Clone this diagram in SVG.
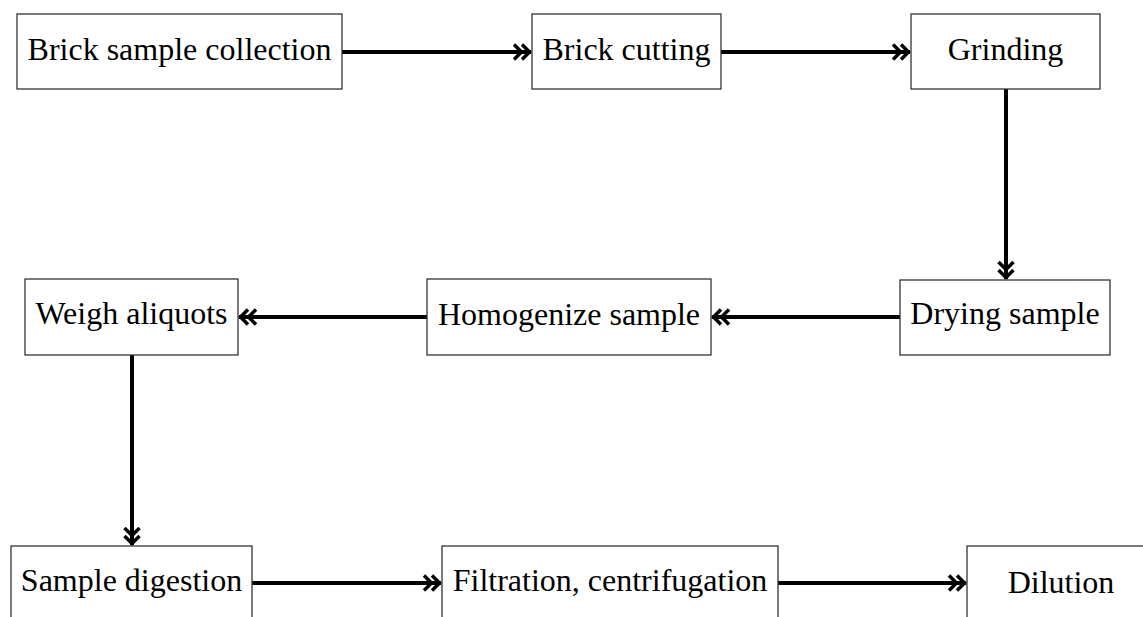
<svg xmlns="http://www.w3.org/2000/svg" width="1143" height="617" viewBox="0 0 1143 617">
  <style>
    .box { fill: #ffffff; stroke: #333333; stroke-width: 1.3; }
    .lbl { font-family: "Liberation Serif", "Times New Roman", serif; font-size: 32px; fill: #000000; text-anchor: middle; }
    .conn { stroke: #000000; stroke-width: 4; fill: none; }
  </style>
  <defs>
    <marker id="dbl" markerUnits="userSpaceOnUse" viewBox="-22 -11 24 22" markerWidth="24" markerHeight="22" refX="0" refY="0" orient="auto" overflow="visible">
      <path d="M-9,-7.5 L-1.5,0 L-9,7.5 M-17,-7.5 L-9.5,0 L-17,7.5" fill="none" stroke="#000000" stroke-width="3.5" stroke-linejoin="miter"/>
    </marker>
  </defs>

  <g id="connectors">
    <line class="conn" x1="342" y1="52" x2="531" y2="52" marker-end="url(#dbl)"/>
    <line class="conn" x1="721" y1="52" x2="910" y2="52" marker-end="url(#dbl)"/>
    <line class="conn" x1="1006" y1="89" x2="1006" y2="279" marker-end="url(#dbl)"/>
    <line class="conn" x1="900" y1="317" x2="712" y2="317" marker-end="url(#dbl)"/>
    <line class="conn" x1="427" y1="317" x2="239" y2="317" marker-end="url(#dbl)"/>
    <line class="conn" x1="132" y1="355" x2="132" y2="545" marker-end="url(#dbl)"/>
    <line class="conn" x1="252" y1="583" x2="441" y2="583" marker-end="url(#dbl)"/>
    <line class="conn" x1="778" y1="583" x2="966" y2="583" marker-end="url(#dbl)"/>
  </g>

  <g id="node-brick-sample-collection">
    <rect class="box" x="17" y="14" width="325" height="75"/>
    <text class="lbl" x="179.5" y="60">Brick sample collection</text>
  </g>
  <g id="node-brick-cutting">
    <rect class="box" x="532" y="14" width="189" height="75"/>
    <text class="lbl" x="626.5" y="60">Brick cutting</text>
  </g>
  <g id="node-grinding">
    <rect class="box" x="911" y="14" width="189" height="75"/>
    <text class="lbl" x="1005.5" y="60">Grinding</text>
  </g>
  <g id="node-drying-sample">
    <rect class="box" x="900" y="280" width="210" height="75"/>
    <text class="lbl" x="1005" y="324">Drying sample</text>
  </g>
  <g id="node-homogenize-sample">
    <rect class="box" x="427" y="279" width="284" height="76"/>
    <text class="lbl" x="569" y="325">Homogenize sample</text>
  </g>
  <g id="node-weigh-aliquots">
    <rect class="box" x="25" y="279" width="213" height="76"/>
    <text class="lbl" x="131.5" y="324">Weigh aliquots</text>
  </g>
  <g id="node-sample-digestion">
    <rect class="box" x="11" y="546" width="241" height="76"/>
    <text class="lbl" x="131.5" y="591">Sample digestion</text>
  </g>
  <g id="node-filtration-centrifugation">
    <rect class="box" x="442" y="546" width="336" height="76"/>
    <text class="lbl" x="610" y="591">Filtration, centrifugation</text>
  </g>
  <g id="node-dilution">
    <rect class="box" x="967" y="546" width="188" height="76"/>
    <text class="lbl" x="1061" y="593">Dilution</text>
  </g>
</svg>
